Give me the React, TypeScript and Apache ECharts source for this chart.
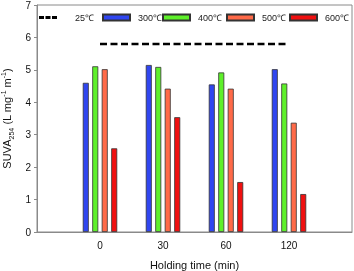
import React, { useEffect, useRef } from "react";
import * as echarts from "echarts";

const categories = ["", "0", "30", "60", "120", ""];
const refName = "25℃";
const refValues = ["-", 5.8, 5.8, 5.8, 5.8, "-"];
const seriesNames = ["300℃", "400℃", "500℃", "600℃"];
const s300 = ["-", 4.6, 5.15, 4.55, 5.02, "-"];
const s400 = ["-", 5.11, 5.09, 4.92, 4.58, "-"];
const s500 = ["-", 5.02, 4.42, 4.42, 3.37, "-"];
const s600 = ["-", 2.58, 3.54, 1.54, 1.17, "-"];
const yTicks = { min: 0, max: 7, interval: 1 };

const colors = ["#3046f0", "#5ef02a", "#ff6a48", "#f01010"];

export default function App() {
  const ref = useRef<HTMLDivElement>(null);
  useEffect(() => {
    if (!ref.current) return;
    const chart = echarts.init(ref.current, undefined, { renderer: "svg" });
    const font = "Liberation Sans, Arial, sans-serif";
    const barData = [s300, s400, s500, s600];
    const legendLefts = [102, 162, 226, 289];
    const option: any = {
      animation: false,
      textStyle: { fontFamily: font },
      grid: {
        left: 37,
        right: 2,
        top: 5,
        bottom: 39,
        containLabel: false,
        outerBoundsMode: "none",
        show: true,
        borderColor: "#8a8a8a",
        borderWidth: 1,
      },
      legend: [
        {
          data: [
            {
              name: refName,
              icon: "path://M0,0h5v3h-5z M6.5,0h5v3h-5z M13,0h5v3h-5z",
              itemStyle: { color: "#000", borderWidth: 0 },
            },
          ],
          left: 39,
          top: 13,
          padding: 0,
          itemWidth: 18,
          itemHeight: 3,
          itemGap: 0,
          textStyle: { fontSize: 9, color: "#222", fontFamily: font, padding: [0, 0, 0, 13] },
        },
        ...seriesNames.map((n, i) => ({
          data: [n],
          left: legendLefts[i],
          top: 13,
          padding: 0,
          itemWidth: 27,
          itemHeight: 6,
          itemGap: 0,
          icon: "rect",
          textStyle: { fontSize: 9, color: "#222", fontFamily: font, padding: [0, 0, 0, 3] },
        })),
      ],
      xAxis: {
        type: "category",
        data: categories,
        boundaryGap: false,
        axisLine: { lineStyle: { color: "#8a8a8a", width: 1 } },
        axisTick: { show: false },
        axisLabel: { fontSize: 10, color: "#111", margin: 8, fontFamily: font },
        name: "Holding time (min)",
        nameLocation: "middle",
        nameGap: 27,
        nameTextStyle: { fontSize: 11, color: "#111", fontFamily: font },
      },
      yAxis: {
        type: "value",
        min: yTicks.min,
        max: yTicks.max,
        interval: yTicks.interval,
        splitLine: { show: false },
        axisLine: { show: true, lineStyle: { color: "#8a8a8a", width: 1 } },
        axisTick: { show: true, length: 3, lineStyle: { color: "#8a8a8a" } },
        axisLabel: { fontSize: 10, color: "#111", margin: 6, fontFamily: font },
        name: "{a|SUVA}{b|254}{a| (L mg}{c|-1}{a| m}{c|-1}{a|)}",
        nameLocation: "middle",
        nameRotate: 90,
        nameGap: 19,
        nameTextStyle: {
          fontFamily: font,
          rich: {
            a: { fontSize: 11, color: "#111", lineHeight: 15, fontFamily: font },
            b: { fontSize: 7, color: "#111", verticalAlign: "bottom", lineHeight: 9, fontFamily: font },
            c: { fontSize: 7, color: "#111", verticalAlign: "top", lineHeight: 9, fontFamily: font },
          },
        },
      },
      series: [
        {
          name: refName,
          type: "line",
          data: refValues,
          symbol: "none",
          lineStyle: { color: "#000", width: 2.5, type: [7, 3.5] },
          itemStyle: { color: "#000" },
          z: 5,
        },
        ...seriesNames.map((n, i) => ({
          name: n,
          type: "bar",
          data: barData[i],
          barWidth: 6,
          barGap: "58%",
          itemStyle: { color: colors[i], borderColor: "#333", borderWidth: 0.8 },
        })),
      ],
    };
    chart.setOption(option);
    return () => chart.dispose();
  }, []);
  return (
    <div
      ref={ref}
      style={{ width: 354, height: 271, position: "fixed", left: 0, top: 0 }}
    />
  );
}
